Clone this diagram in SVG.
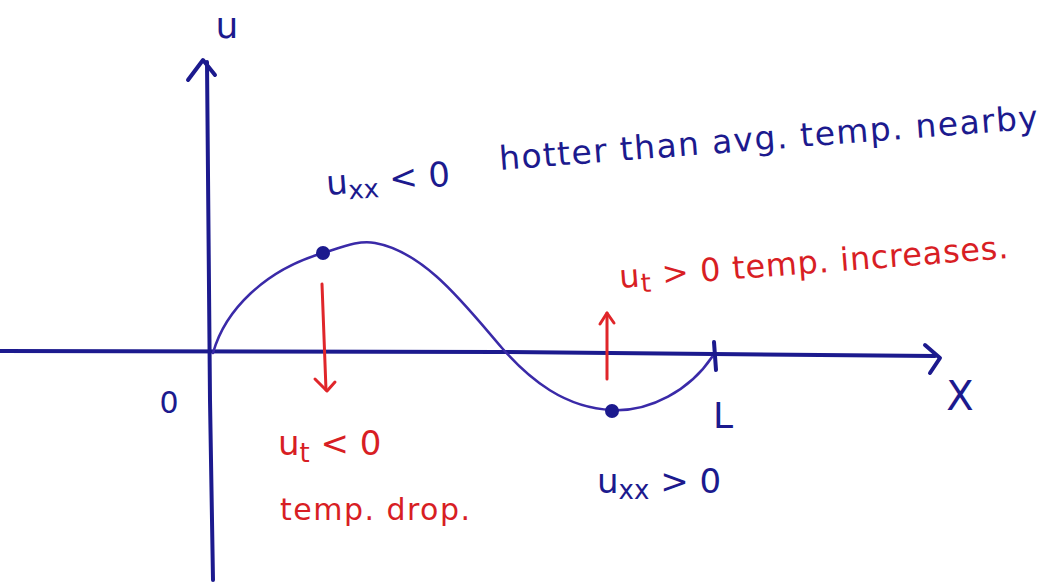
<svg xmlns="http://www.w3.org/2000/svg" width="1052" height="584" viewBox="0 0 1052 584">
<style>
.b{fill:none;stroke:#1c1a8e;stroke-width:4;stroke-linecap:round;stroke-linejoin:round}
.c{fill:none;stroke:#3a2aa8;stroke-width:2.5;stroke-linecap:round}
.r{fill:none;stroke:#e0262a;stroke-width:3;stroke-linecap:round;stroke-linejoin:round}
.tb{fill:#1c1a8e;font-family:"DejaVu Sans",sans-serif}
.tr{fill:#d81e24;font-family:"DejaVu Sans",sans-serif}
</style>
<rect width="1052" height="584" fill="#fff"/>
<g id="axes">
<path class="b" d="M213,580 L210,400 L207,62"/>
<path class="b" d="M188,80 L203,60 L215,75"/>
<path class="b" d="M0,351 L500,352 L935,356"/>
<path class="b" d="M925,345 L940,358 L930,373"/>
<path class="b" d="M714,342 L716,370"/>
<text class="tb" x="227" y="38" font-size="36" text-anchor="middle">u</text>
<text class="tb" x="960" y="410" font-size="40" text-anchor="middle">X</text>
<text class="tb" x="169" y="413" font-size="30" text-anchor="middle">0</text>
<text class="tb" x="723" y="428" font-size="36" text-anchor="middle">L</text>
</g>
<g id="curve">
<path class="c" d="M213,353 C225,310 265,270 323,253 C345,246 360,240 375,243 C425,252 465,305 502,348 C530,380 565,408 612,410 C650,412 690,390 712,357"/>
<circle cx="323" cy="253" r="7" fill="#1c1a8e"/>
<circle cx="612" cy="411" r="7" fill="#1c1a8e"/>
</g>
<g id="arrows">
<path class="r" d="M322,284 L326,390"/>
<path class="r" d="M315,379 L327,391 L335,382"/>
<path class="r" d="M607,379 L607,313"/>
<path class="r" d="M600,324 L607,313 L614,323"/>
</g>
<g id="labels">
<text class="tb" x="327" y="195" font-size="34" transform="rotate(-4.4 327 195)">u<tspan font-size="26" dy="6">xx</tspan><tspan dy="-6"> &lt; 0</tspan></text>
<text class="tb" x="500" y="170" font-size="33" textLength="540" lengthAdjust="spacing" transform="rotate(-4.4 500 170)">hotter than avg. temp. nearby</text>
<text class="tr" x="620" y="288" font-size="32" textLength="390" lengthAdjust="spacing" transform="rotate(-4.4 620 288)">u<tspan font-size="26" dy="6">t</tspan><tspan dy="-6"> &gt; 0 temp. increases.</tspan></text>
<text class="tr" x="278" y="455" font-size="34">u<tspan font-size="26" dy="7">t</tspan><tspan dy="-7"> &lt; 0</tspan></text>
<text class="tr" x="280" y="520" font-size="30" textLength="190" lengthAdjust="spacing">temp. drop.</text>
<text class="tb" x="597" y="493" font-size="34">u<tspan font-size="26" dy="6">xx</tspan><tspan dy="-6"> &gt; 0</tspan></text>
</g>
</svg>
